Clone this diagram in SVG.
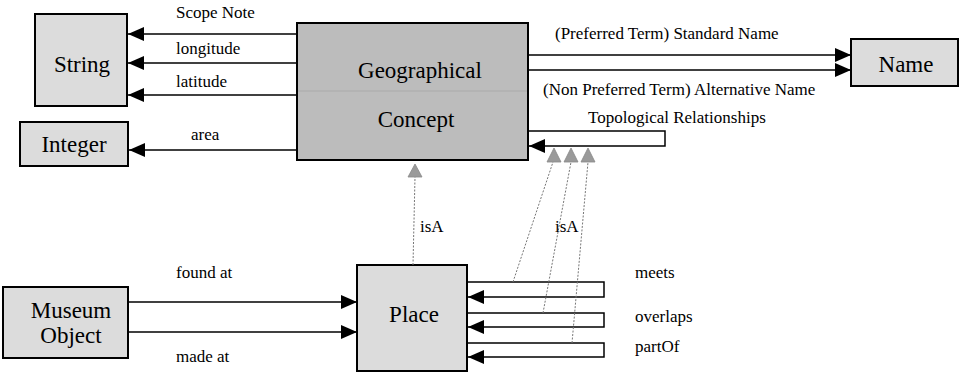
<svg xmlns="http://www.w3.org/2000/svg" width="963" height="373" viewBox="0 0 963 373">
<style>
.box{fill:#dcdcdc;stroke:#000;stroke-width:2}
.dark{fill:#bcbcbc;stroke:#000;stroke-width:2}
.big{font-family:"Liberation Serif","Times New Roman",serif;font-size:23px;fill:#000;text-anchor:middle}
.lbl{font-family:"Liberation Serif","Times New Roman",serif;font-size:17px;fill:#000}
.edge{fill:none;stroke:#000;stroke-width:1.5}
.isa{fill:none;stroke:#777;stroke-width:1;stroke-dasharray:2 1.5}
.tri{fill:#9a9a9a;stroke:#888;stroke-width:0.8}
</style>
<defs>
<marker id="ah" markerUnits="userSpaceOnUse" markerWidth="18" markerHeight="16" refX="16" refY="8" orient="auto">
<path d="M0,1 L16,8 L0,15 Z" fill="#000"/>
</marker>
</defs>
<g id="string"><rect class="box" x="35" y="14" width="92" height="92"/><text class="big" x="82" y="72">String</text></g>
<g id="integer"><rect class="box" x="20" y="122" width="108" height="44"/><text class="big" x="74" y="152">Integer</text></g>
<g id="geo"><rect class="dark" x="297" y="23" width="231" height="137"/><line x1="298" y1="91" x2="527" y2="91" stroke="#aaa" stroke-width="1"/><text class="big" x="420" y="78">Geographical</text><text class="big" x="416" y="127">Concept</text></g>
<g id="name"><rect class="box" x="851" y="39" width="107" height="47"/><text class="big" x="906" y="72">Name</text></g>
<g id="museum"><rect class="box" x="3" y="287" width="125" height="71"/><text class="big" x="71" y="318">Museum</text><text class="big" x="71" y="343">Object</text></g>
<g id="place"><rect class="box" x="357" y="265" width="110" height="106"/><text class="big" x="414" y="322">Place</text></g>
<g id="connectors">
<line class="edge" x1="297" y1="34" x2="128" y2="34" marker-end="url(#ah)"/>
<line class="edge" x1="297" y1="63" x2="128" y2="63" marker-end="url(#ah)"/>
<line class="edge" x1="297" y1="95" x2="128" y2="95" marker-end="url(#ah)"/>
<line class="edge" x1="297" y1="150" x2="129" y2="150" marker-end="url(#ah)"/>
<line class="edge" x1="528" y1="55" x2="851" y2="55" marker-end="url(#ah)"/>
<line class="edge" x1="528" y1="70" x2="851" y2="70" marker-end="url(#ah)"/>
<path class="edge" d="M528,131 H665 V146 H529" marker-end="url(#ah)"/>
<line class="edge" x1="128" y1="302" x2="357" y2="302" marker-end="url(#ah)"/>
<line class="edge" x1="128" y1="332" x2="357" y2="332" marker-end="url(#ah)"/>
<path class="edge" d="M467,282 H604 V297 H468" marker-end="url(#ah)"/>
<path class="edge" d="M467,313 H604 V327 H468" marker-end="url(#ah)"/>
<path class="edge" d="M467,343 H604 V357 H468" marker-end="url(#ah)"/>
<line class="isa" x1="413" y1="265" x2="415" y2="177"/>
<polygon class="tri" points="415,164 408,177 422,177"/>
<line class="isa" x1="513" y1="282" x2="553" y2="162"/>
<line class="isa" x1="543" y1="313" x2="571" y2="162"/>
<line class="isa" x1="572" y1="343" x2="588" y2="162"/>
<polygon class="tri" points="554,148 547,162 561,162"/>
<polygon class="tri" points="571,148 564,162 578,162"/>
<polygon class="tri" points="588,148 581,162 595,162"/>
</g>
<g id="labels">
<text class="lbl" x="176" y="18">Scope Note</text>
<text class="lbl" x="176" y="54">longitude</text>
<text class="lbl" x="176" y="87">latitude</text>
<text class="lbl" x="191" y="140">area</text>
<text class="lbl" x="555" y="39">(Preferred Term) Standard Name</text>
<text class="lbl" x="543" y="95">(Non Preferred Term) Alternative Name</text>
<text class="lbl" x="588" y="123">Topological Relationships</text>
<text class="lbl" x="420" y="232">isA</text>
<text class="lbl" x="555" y="232">isA</text>
<text class="lbl" x="176" y="278">found at</text>
<text class="lbl" x="176" y="362">made at</text>
<text class="lbl" x="635" y="278">meets</text>
<text class="lbl" x="635" y="322">overlaps</text>
<text class="lbl" x="635" y="352">partOf</text>
</g>
</svg>
